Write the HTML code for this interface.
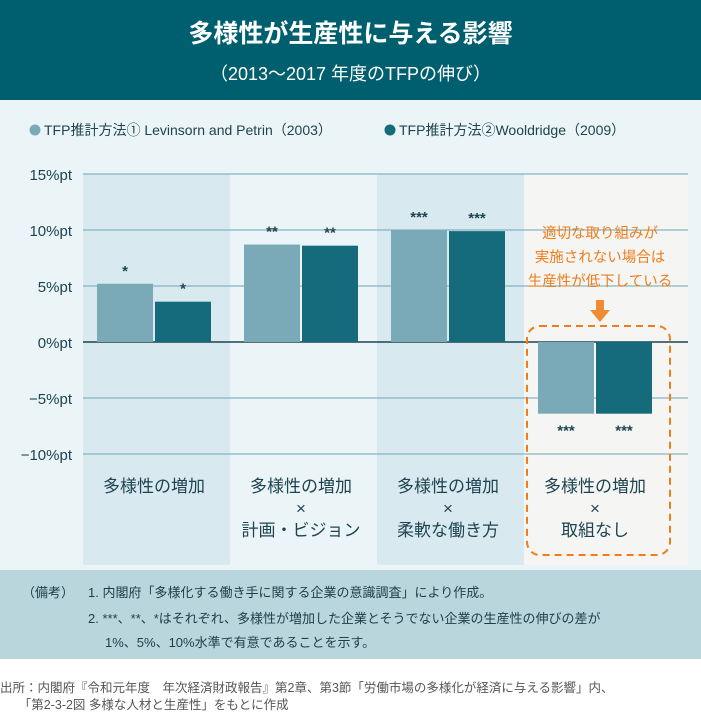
<!DOCTYPE html>
<html><head><meta charset="utf-8">
<style>
body{margin:0;width:701px;height:713px;overflow:hidden;background:#fff;font-family:"Liberation Sans","Noto Sans CJK JP",sans-serif;}
#header{position:absolute;left:0;top:0;width:701px;height:100px;background:#005f6e;color:#fff;text-align:center;}
#title{position:absolute;top:14px;width:100%;font-size:25px;font-weight:bold;}
#sub{position:absolute;top:60px;width:100%;font-size:18px;}
#chart{position:absolute;left:0;top:100px;}
#notes{position:absolute;left:0;top:570px;width:701px;height:89px;background:#b9d6dc;color:#1f3d48;font-size:13px;}
#notes div{position:absolute;white-space:nowrap;}
#source{position:absolute;left:0;top:680px;font-size:12.5px;color:#555;line-height:17px;white-space:nowrap;}
</style></head><body>
<div id="header">
<div id="title">多様性が生産性に与える影響</div>
<div id="sub">（2013～2017 年度のTFPの伸び）</div>
</div>
<svg id="chart" width="701" height="470" font-family="Liberation Sans, Noto Sans CJK JP, sans-serif"></svg>
<div id="notes">
<div style="left:22px;top:12px">（備考）</div>
<div style="left:88px;top:12px">1. 内閣府「多様化する働き手に関する企業の意識調査」により作成。</div>
<div style="left:88px;top:38px">2. ***、**、*はそれぞれ、多様性が増加した企業とそうでない企業の生産性の伸びの差が</div>
<div style="left:105px;top:62px">1%、5%、10%水準で有意であることを示す。</div>
</div>
<div id="source">出所：内閣府『令和元年度　年次経済財政報告』第2章、第3節「労働市場の多様化が経済に与える影響」内、<br>　　「第2-3-2図 多様な人材と生産性」をもとに作成</div>
<script>
const categories=[["多様性の増加"],["多様性の増加","×","計画・ビジョン"],["多様性の増加","×","柔軟な働き方"],["多様性の増加","×","取組なし"]];
const series1=[5.2,8.7,10.0,-6.4];
const series2=[3.6,8.6,9.9,-6.4];
const sig=["*","**","***","***"];
const yTicks=[15,10,5,0,-5,-10];
const yLabels=["15%pt","10%pt","5%pt","0%pt","−5%pt","−10%pt"];
const seriesNames=["TFP推計方法① Levinsorn and Petrin（2003）","TFP推計方法②Wooldridge（2009）"];

const svg=document.getElementById('chart');
const NS='http://www.w3.org/2000/svg';
const OY=100;
const y=v=>342-OY-v*11.2;
const panelW=147,plotL=83,plotR=688;
const cx=i=>plotL+panelW*i+71;
function mk(t,a){const e=document.createElementNS(NS,t);for(const k in a)e.setAttribute(k,a[k]);svg.appendChild(e);return e;}
mk('rect',{x:0,y:0,width:701,height:470,fill:'#ebf4f7'});
const panelFill=['#d9e9f0','#ebf4f7','#d9e9f0','#f5f5f3'];
categories.forEach((c,i)=>{
  const r=mk('rect',{x:plotL+panelW*i,y:y(15),width:i==3?plotR-(plotL+panelW*3):panelW,height:465-y(15),fill:panelFill[i]});
  
  
});
yTicks.forEach((t,i)=>{
  const l=mk('line',{x1:plotL,x2:plotR,y1:y(t),y2:y(t),stroke:t==0?'#1d4450':'#6aa7b6','stroke-width':t==0?1.5:1});
  
  
  const tx=mk('text',{x:72,y:y(t)+6,'text-anchor':'end','font-size':15,fill:'#1d4450'});
  tx.textContent=yLabels[i];
  
  
});
// legend
[['#7aaab7',30],['#156a7b',385]].forEach((d,i)=>{
  const c=mk('circle',{cx:d[1]+5,cy:30,r:5.5,fill:d[0]});
  
  
  const t=mk('text',{x:d[1]+14,y:35,'font-size':14,fill:'#1d4450'});
  t.textContent=seriesNames[i];
  
  
});
// highlight box
const hb=mk('rect',{x:527,y:326-OY,width:143,height:229,rx:13,fill:'none',stroke:'#ef7d1a','stroke-width':2,'stroke-dasharray':'7,5'});


const bw=56;
categories.forEach((c,i)=>{
  [[series1,'#7aaab7',-bw-1],[series2,'#156a7b',1]].forEach((s,j)=>{
    const v=s[0][i];
    const r=mk('rect',{x:cx(i)+s[2],y:Math.min(y(v),y(0)),width:bw,height:Math.abs(y(v)-y(0)),fill:s[1]});
    
    
    const t=mk('text',{x:cx(i)+s[2]+bw/2,y:v>=0?y(v)-8:y(v)+22,'text-anchor':'middle','font-size':15,'font-weight':'bold',fill:'#1d4450'});
    t.textContent=sig[i];
    
    
  });
  c.forEach((line,k)=>{
    const t=mk('text',{x:cx(i),y:392+k*22,'text-anchor':'middle','font-size':17,fill:'#1d4450'});
    t.textContent=line;
    
    
  });
});
// annotation
["適切な取り組みが","実施されない場合は","生産性が低下している"].forEach((s,k)=>{
  const t=mk('text',{x:600,y:138+k*24,'text-anchor':'middle','font-size':14.5,fill:'#ef7d1a'});
  t.textContent=s;
  
  
});
const ar=mk('path',{d:'M596,200 h8 v10 h6 l-10,12 l-10,-12 h6 z',fill:'#f08a33'});


</script>
</body></html>
